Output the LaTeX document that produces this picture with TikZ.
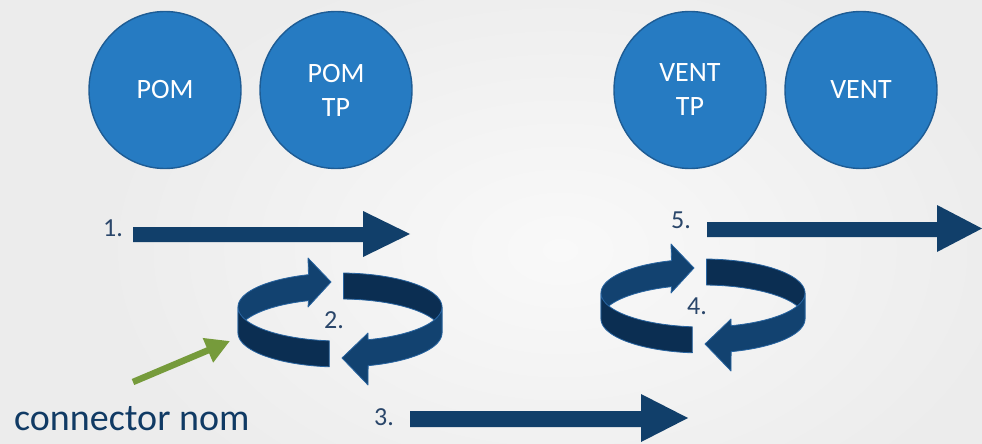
\documentclass[tikz,border=0pt]{standalone}
\usepackage{fontspec}
\setmainfont{Carlito}
\usetikzlibrary{arrows.meta,shapes.geometric}
\definecolor{bgc}{RGB}{236,236,236}
\definecolor{bgl}{RGB}{249,249,249}
\definecolor{circfill}{RGB}{38,123,194}
\definecolor{circdraw}{RGB}{30,92,148}
\definecolor{navy}{RGB}{17,63,106}
\definecolor{ringlight}{RGB}{18,66,112}
\definecolor{ringdark}{RGB}{11,46,82}
\definecolor{ringedge}{RGB}{40,100,160}
\definecolor{labelc}{RGB}{42,70,106}
\definecolor{greenc}{RGB}{118,155,59}
\definecolor{txtnavy}{RGB}{16,58,100}
\begin{document}
\begin{tikzpicture}[x=1pt,y=-1pt,
  bubble/.style={ellipse, fill=circfill, draw=circdraw, line width=1.4pt,
    minimum width=152pt, minimum height=157pt, inner sep=0pt, align=center,
    text=white, font=\fontsize{28}{34}\selectfont},
  numlabel/.style={text=labelc, font=\fontsize{26}{30}\selectfont, inner sep=0pt},
  blockarrow/.style={fill=navy},
  lightpiece/.style={fill=ringlight, draw=ringedge, line width=0.8pt, line join=round},
  darkpiece/.style={fill=ringdark, draw=ringedge, line width=0.8pt, line join=round}]
\useasboundingbox (0,0) rectangle (982,444);
\fill[bgc] (0,0) rectangle (982,444);
\shade[inner color=bgl, outer color=bgc] (560,250) ellipse [x radius=460, y radius=300];

% circles
\node[bubble] (pom) at (165,90) {POM};
\node[bubble] (pomtp) at (336,90) {POM\\TP};
\node[bubble] (venttp) at (690,90) {VENT\\TP};
\node[bubble] (vent) at (861,90) {VENT};

% block arrows
\fill[blockarrow] (133,227) -- (363,227) -- (363,211) -- (410,234) -- (363,257) -- (363,242) -- (133,242) -- cycle;
\fill[blockarrow] (707,222) -- (937,222) -- (937,205) -- (982,228.5) -- (937,252) -- (937,237) -- (707,237) -- cycle;
\fill[blockarrow] (410,411) -- (641,411) -- (641,394) -- (688,418) -- (641,442) -- (641,427) -- (410,427) -- cycle;
\node[numlabel] (l1) at (113,228) {1.};
\node[numlabel] (l3) at (384,417) {3.};
\node[numlabel] (l5) at (681,220) {5.};

% rings
\foreach \sx/\sy/\lab in {0/0/2, 363/-14/4} {
\begin{scope}[shift={(\sx,\sy)}]
  \path[lightpiece] plot[domain=180:252,samples=30] ({340+102*cos(\x)},{307+34*sin(\x)})
     -- (308,258) -- (331,282) -- (308,307)
     -- plot[domain=252:180,samples=30] ({340+102*cos(\x)},{333+34*sin(\x)}) -- cycle;
  \path[darkpiece] plot[domain=272:360,samples=30] ({340+102*cos(\x)},{307+34*sin(\x)})
     -- plot[domain=360:272,samples=30] ({340+102*cos(\x)},{333+34*sin(\x)}) -- cycle;
  \path[darkpiece] plot[domain=96:180,samples=30] ({340+102*cos(\x)},{307+34*sin(\x)})
     -- plot[domain=180:96,samples=30] ({340+102*cos(\x)},{333+34*sin(\x)}) -- cycle;
  \path[lightpiece] plot[domain=0:74,samples=30] ({340+102*cos(\x)},{307+34*sin(\x)})
     -- (368,333) -- (342,358) -- (368,385)
     -- plot[domain=74:0,samples=30] ({340+102*cos(\x)},{333+34*sin(\x)}) -- cycle;
  \node[numlabel] (ring\lab) at (334,320) {\lab.};
\end{scope}
}

% connector label and green arrow
\node[anchor=base west, inner sep=0pt, text=txtnavy, font=\fontsize{38}{44}\selectfont] (conn) at (14,430) {connector nom};
\coordinate (gtail) at (133,382);
\coordinate (gtip) at (230,341);
\draw[greenc, line width=6.5pt, -{Triangle[length=24pt,width=25pt]}] (gtail) -- (gtip);
\end{tikzpicture}
\end{document}
